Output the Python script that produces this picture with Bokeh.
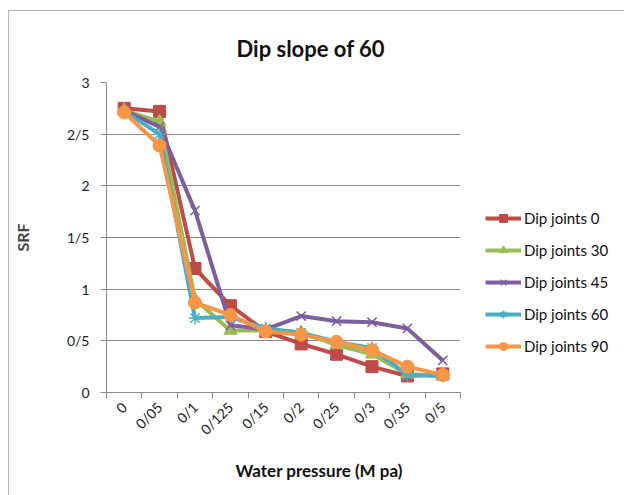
import math
from bokeh.plotting import figure
from bokeh.models import FixedTicker, Legend, LegendItem, Range1d, Title
from bokeh.embed import file_html
from bokeh.resources import INLINE

categories = ["0", "0/05", "0/1", "0/125", "0/15", "0/2", "0/25", "0/3", "0/35", "0/5"]
y_tick_values = [0, 0.5, 1, 1.5, 2, 2.5, 3]
y_tick_labels = ["0", "0/5", "1", "1/5", "2", "2/5", "3"]

series_names = ["Dip joints 0", "Dip joints 30", "Dip joints 45", "Dip joints 60", "Dip joints 90"]
dip0 = [2.75, 2.72, 1.20, 0.84, 0.59, 0.47, 0.37, 0.25, 0.16, 0.18]
dip30 = [2.73, 2.62, 0.90, 0.60, 0.60, 0.58, 0.46, 0.37, 0.18, 0.16]
dip45 = [2.73, 2.57, 1.76, 0.65, 0.61, 0.74, 0.69, 0.68, 0.62, 0.31]
dip60 = [2.72, 2.50, 0.72, 0.73, 0.62, 0.58, 0.49, 0.43, 0.17, 0.16]
dip90 = [2.71, 2.39, 0.87, 0.75, 0.59, 0.56, 0.49, 0.41, 0.25, 0.17]

colors = ["#BE4B48", "#9BBB59", "#7D5FA0", "#4BACC6", "#F79646"]
markers = ["square", "triangle", "x", "asterisk", "circle"]
marker_sizes = [12, 13, 13, 13, 13]

FONT = "Lato"

x_pos = [i + 0.5 for i in range(len(categories))]

p = figure(frame_width=354, frame_height=310, output_backend="svg", toolbar_location=None,
           x_range=Range1d(0, len(categories)), y_range=Range1d(0, 3),
           min_border_left=96, min_border_right=10, min_border_top=70, min_border_bottom=105,
           margin=(10, 0, 0, 8))
p.styles = {"border-left": "1px solid #b4b4b4", "border-top": "1px solid #b4b4b4"}

p.title.text = "Dip slope of 60"
p.title.align = "left"
p.title.text_font = FONT
p.title.text_font_size = "22px"
p.title.text_font_style = "bold"
p.title.text_color = "#111111"
p.title.offset = 130
p.title.standoff = 42

p.outline_line_color = None
p.background_fill_color = "white"
p.border_fill_color = "white"

# Y axis
p.yaxis.ticker = FixedTicker(ticks=y_tick_values)
p.yaxis.major_label_overrides = {v: l for v, l in zip(y_tick_values, y_tick_labels)}
p.yaxis.axis_label = "SRF"
p.yaxis.axis_label_text_font = FONT
p.yaxis.axis_label_text_font_style = "bold"
p.yaxis.axis_label_text_font_size = "16px"
p.yaxis.axis_label_standoff = 32
p.yaxis.major_label_text_font = FONT
p.yaxis.major_label_text_font_size = "14px"
p.yaxis.major_label_text_color = "#222222"
p.yaxis.major_tick_out = 6
p.yaxis.major_tick_in = 0
p.yaxis.minor_tick_out = 0
p.yaxis.minor_tick_in = 0
p.yaxis.axis_line_color = "#8a8a8a"
p.yaxis.major_tick_line_color = "#8a8a8a"
p.yaxis.major_label_standoff = 11

# X axis
p.xaxis.ticker = FixedTicker(ticks=x_pos, minor_ticks=list(range(len(categories) + 1)))
p.xaxis.major_label_overrides = {x: c for x, c in zip(x_pos, categories)}
p.xaxis.major_label_orientation = math.pi / 4
p.xaxis.major_label_text_font = FONT
p.xaxis.major_label_text_font_size = "14px"
p.xaxis.major_label_text_color = "#222222"
p.xaxis.major_tick_out = 0
p.xaxis.major_tick_in = 0
p.xaxis.minor_tick_out = 6
p.xaxis.minor_tick_in = 0
p.xaxis.minor_tick_line_color = "#8a8a8a"
p.xaxis.axis_line_color = "#8a8a8a"
p.xaxis.major_label_standoff = 6

xtitle = Title(text="Water pressure (M pa)", align="left", offset=129,
               text_font=FONT, text_font_style="bold", text_font_size="17px",
               text_color="#111111", standoff=23)
p.add_layout(xtitle, "below")

p.xgrid.grid_line_color = None
p.ygrid.ticker = FixedTicker(ticks=y_tick_values)
p.ygrid.grid_line_color = "#8a8a8a"
p.ygrid.grid_line_width = 1

items = []
for name, vals, col, mk, ms in zip(series_names, [dip0, dip30, dip45, dip60, dip90], colors, markers, marker_sizes):
    ln = p.line(x_pos, vals, line_color=col, line_width=4)
    if mk in ("x", "asterisk"):
        sc = p.scatter(x_pos, vals, marker=mk, size=ms, line_color=col, line_width=1.5, fill_color=col)
    else:
        sc = p.scatter(x_pos, vals, marker=mk, size=ms, line_color=col, fill_color=col)
    items.append(LegendItem(label=name, renderers=[ln, sc]))

legend = Legend(items=items, location=(25, 36), border_line_color=None, background_fill_alpha=0,
                glyph_width=36, glyph_height=20, spacing=12, label_standoff=3,
                label_text_font=FONT, label_text_font_size="15px", label_text_color="#111111",
                padding=0, margin=0)
p.add_layout(legend, "right")

open("out.html", "w").write(file_html(p, INLINE))
